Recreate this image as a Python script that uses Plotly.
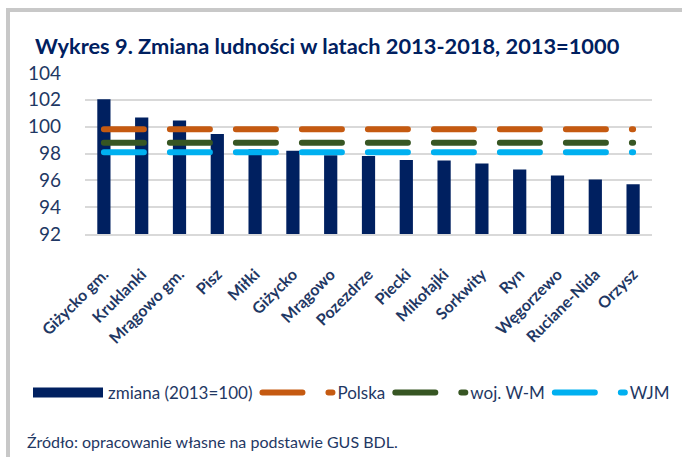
import plotly.graph_objects as go

categories = ["Giżycko gm.", "Kruklanki", "Mrągowo gm.", "Pisz", "Miłki", "Giżycko",
              "Mrągowo", "Pozezdrze", "Piecki", "Mikołajki", "Sorkwity", "Ryn",
              "Węgorzewo", "Ruciane-Nida", "Orzysz"]
zmiana = [102.05, 100.69, 100.46, 99.45, 98.31, 98.21, 97.87, 97.82, 97.52, 97.47,
          97.25, 96.80, 96.36, 96.06, 95.71]
polska = [99.8, 99.8, 99.8, 99.8, 99.8, 99.8, 99.8, 99.8, 99.8, 99.8, 99.8, 99.8, 99.8, 99.8, 99.8]
woj_wm = [98.8, 98.8, 98.8, 98.8, 98.8, 98.8, 98.8, 98.8, 98.8, 98.8, 98.8, 98.8, 98.8, 98.8, 98.8]
wjm = [98.1, 98.1, 98.1, 98.1, 98.1, 98.1, 98.1, 98.1, 98.1, 98.1, 98.1, 98.1, 98.1, 98.1, 98.1]
y_ticks = [92, 94, 96, 98, 100, 102, 104]

W, H = 682, 457
ML, MR, MT, MB = 85, 30, 73, 223
PW = W - ML - MR
PH = H - MT - MB


def px(x):
    return (x - ML) / PW


def py(y):
    return (H - MB - y) / PH


NAVY = "#002060"
TXT = "#1F3864"
ORANGE = "#C55A11"
GREEN = "#375623"
BLUE = "#00B0F0"
GRID = "#D9D9D9"
FRAME = "#C8C8C8"
FONT = "Lato"

fig = go.Figure()
fig.add_bar(x=categories, y=zmiana, marker=dict(color=NAVY, line=dict(width=0)),
            showlegend=False, name="zmiana (2013=100)")
fig.add_scatter(x=[None], y=[None], mode="lines", line=dict(color=NAVY, width=10),
                name="zmiana (2013=100)")
for name, vals, col in [("Polska", polska, ORANGE), ("woj. W-M", woj_wm, GREEN), ("WJM", wjm, BLUE)]:
    fig.add_scatter(x=categories, y=vals, mode="lines", name=name,
                    line=dict(color=col, width=6, dash="40px,26px"))

fig.update_layout(
    width=W, height=H,
    margin=dict(l=ML, r=MR, t=MT, b=MB),
    paper_bgcolor="white", plot_bgcolor="white",
    bargap=0.65,
    font=dict(family=FONT, color=TXT),
    title=dict(text="Wykres 9. Zmiana ludności w latach 2013-2018, 2013=1000",
               font=dict(family=FONT, size=21.8, color=NAVY, weight="bold"),
               xref="container", x=35 / W, xanchor="left",
               yref="container", y=1 - 46 / H, yanchor="middle"),
    legend=dict(orientation="h", x=px(28), xanchor="left", y=py(393), yanchor="middle",
                itemwidth=70, font=dict(family=FONT, size=17, color=TXT),
                bgcolor="rgba(0,0,0,0)", traceorder="normal"),
    shapes=[
        dict(type="rect", xref="paper", yref="paper", x0=px(6), x1=px(W + 5),
             y0=py(12), y1=py(8), fillcolor=FRAME, line=dict(width=0), layer="above"),
        dict(type="rect", xref="paper", yref="paper", x0=px(6), x1=px(10),
             y0=py(H + 5), y1=py(8), fillcolor=FRAME, line=dict(width=0), layer="above"),
    ],
    annotations=[
        dict(text="Źródło: opracowanie własne na podstawie GUS BDL.", xref="paper", yref="paper",
             x=px(25), y=py(442), xanchor="left", yanchor="middle", showarrow=False,
             font=dict(family=FONT, size=16, color=TXT)),
    ],
)
fig.update_yaxes(range=[92, 104], tickvals=y_ticks, showgrid=True, gridcolor=GRID, gridwidth=1.6,
                 zeroline=False, showline=False, ticks="", ticklabelstandoff=23,
                 tickfont=dict(family=FONT, size=19, color=TXT))
fig.update_xaxes(type="category", tickangle=-45, showline=True, linecolor=GRID, linewidth=1.6,
                 ticks="", showgrid=False, ticklabelstandoff=23,
                 tickfont=dict(family=FONT, size=16, color=TXT, weight="bold"))

post = ("document.body.style.margin='0';"
        "var s=document.createElement('style');"
        "s.textContent='body{margin:0}.scatterlayer .js-line{stroke-linecap:round}"
        ".legend .traces:not(:first-child) .js-line{stroke-linecap:round}';"
        "document.head.appendChild(s);")
fig.write_html("out.html", post_script=post, config={"displayModeBar": False})
